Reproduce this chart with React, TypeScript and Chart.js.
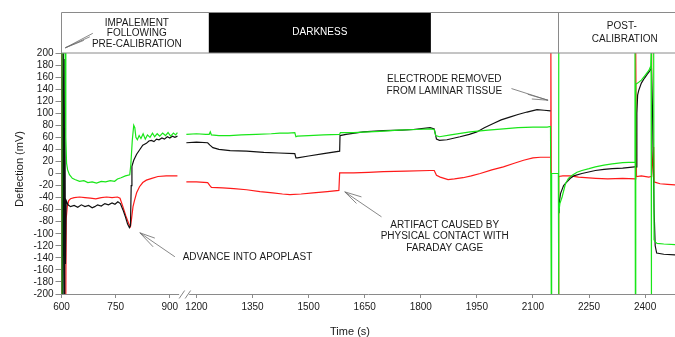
import React, { useEffect, useRef } from "react";
import { Chart, registerables } from "chart.js";

Chart.register(...registerables);

type Pt = [number, number] | null;

// ---------- DATA (time in s, deflection in mV) ----------
const xTickTimes = [600, 750, 900, 1200, 1350, 1500, 1650, 1800, 1950, 2100, 2250, 2400];
const yMin = -200;
const yMax = 200;
const yStep = 20;

const greenTrace: Pt[] = [
  [600, -200], [601, 200], [610, 200], [612, 60], [614, 17], [617, 6], [622, -2], [630, -8], [637, -10],
  [650, -13], [662, -12], [673, -15], [685, -14], [697, -16], [710, -13], [722, -14], [735, -12], [747, -13],
  [755, -9], [765, -7], [777, -4], [789, -2], [792, 15], [796, 55], [800, 80], [803, 76], [806, 60], [810, 56],
  [815, 63], [820, 58], [826, 66], [832, 57], [838, 64], [845, 60], [852, 67], [858, 61], [865, 66], [872, 62],
  [880, 67], [888, 63], [895, 68], [902, 62], [910, 67], [916, 64], [921, 68],
  null,
  [1173, 65], [1200, 66], [1225, 65], [1234, 65], [1237, 69], [1240, 64], [1260, 63], [1289, 63], [1320, 64],
  [1360, 65], [1400, 66], [1423, 67], [1445, 67], [1463, 68], [1466, 61], [1470, 62], [1500, 63], [1540, 64],
  [1583, 65], [1585, 68], [1620, 68], [1660, 69], [1691, 70], [1740, 72], [1790, 73], [1825, 74], [1836, 73],
  [1840, 63], [1850, 61], [1880, 64], [1932, 69], [1980, 72], [2021, 74], [2060, 76], [2100, 77], [2138, 77],
  [2147, 78], [2149, -200], [2150, 0], [2168, 0], [2168.5, 200], [2169, -200], [2169.5, -66], [2172, -50],
  [2178, -39], [2187, -17], [2195, -8], [2205, -3], [2218, 2], [2231, 5], [2250, 8], [2267, 11], [2290, 14],
  [2312, 16], [2340, 18], [2372, 19], [2373, 200], [2374, -200], [2375, 148], [2380, 150], [2390, 155],
  [2400, 163], [2410, 171], [2415, 178], [2416, 200], [2417, -200],
  null,
  [2423, 200], [2424, -110], [2428, -114], [2432, -116], [2450, -117], [2481, -118],
];

const blackTrace: Pt[] = [
  [600, -200], [601, 200], [603, -200], [605, 200], [607, -200], [609, 190], [611, -150], [613, -45],
  [618, -52], [625, -55], [635, -53], [645, -56], [655, -52], [665, -55], [675, -53], [685, -57], [692, -55],
  [700, -52], [710, -54], [720, -50], [730, -52], [740, -49], [748, -51], [756, -47], [763, -50], [770, -60],
  [777, -72], [783, -84], [788, -90], [791, -86], [793, -20], [795, 12], [800, 22], [808, 32], [816, 39],
  [825, 47], [835, 50], [842, 54], [849, 55], [856, 53], [863, 57], [870, 56], [878, 59], [885, 57], [893, 61],
  [900, 59], [907, 62], [914, 60], [921, 62],
  null,
  [1173, 51], [1200, 52], [1230, 51], [1236, 47], [1244, 43], [1260, 40], [1290, 38], [1334, 37], [1380, 35],
  [1420, 34], [1463, 33], [1466, 26], [1470, 26], [1500, 29], [1540, 33], [1583, 37], [1584, 63], [1600, 65],
  [1646, 69], [1700, 71], [1750, 72], [1780, 73], [1825, 76], [1836, 74], [1842, 57], [1850, 55], [1870, 56],
  [1905, 61], [1930, 65], [1950, 69], [1970, 76], [1994, 83], [2015, 89], [2040, 94], [2060, 98], [2084, 102],
  [2111, 106], [2130, 105], [2147, 104],
  null,
  [2169.5, -66], [2171, -45], [2174, -33], [2182, -20], [2191, -14], [2200, -8], [2209, -4], [2231, 0],
  [2267, 5], [2290, 7], [2312, 8], [2340, 9], [2372, 11], [2376, 11], [2378, 100], [2380, 130], [2383, 138],
  [2390, 150], [2398, 158], [2405, 164], [2412, 170], [2417, 175], [2420, 100], [2424, -60], [2427, -120],
  [2431, -132], [2450, -134], [2481, -135],
];

const redTrace: Pt[] = [
  [600, 200], [600.5, -200],
  null,
  [612, -200], [613, -75], [616, -55], [620, -45], [625, -42], [635, -40], [650, -39], [665, -40], [680, -41],
  [695, -42], [710, -40], [725, -39], [740, -40], [755, -39], [762, -41], [770, -55], [778, -70], [786, -83],
  [791, -88], [794, -75], [798, -55], [802, -45], [808, -32], [816, -22], [825, -15], [835, -11], [850, -8],
  [867, -5], [890, -4], [921, -4],
  null,
  [1173, -14], [1200, -14], [1230, -15], [1236, -20], [1240, -23], [1270, -24], [1300, -25], [1334, -27],
  [1370, -30], [1404, -32], [1430, -34], [1450, -35], [1480, -34], [1512, -32], [1550, -30], [1581, -28],
  [1583, 1], [1620, 1], [1660, 2], [1700, 3], [1760, 4], [1825, 5], [1836, 5], [1842, -3], [1852, -6],
  [1873, -10], [1890, -9], [1913, -7], [1935, -4], [1959, 0], [1990, 6], [2021, 11], [2050, 17], [2075, 22],
  [2100, 26], [2120, 27], [2147, 27], [2148, 200], [2149, 0],
  null,
  [2168.5, -200], [2169, -5], [2180, -4], [2200, -4], [2222, -6], [2268, -8], [2300, -9], [2340, -8],
  [2374, -9], [2375, 200], [2377, -5], [2390, -4], [2410, -6], [2416, -5], [2417, 200], [2418, -5],
  [2423, 44], [2424, -14], [2440, -17], [2460, -18], [2481, -19],
];

// periods shown in the header band (s)
const darknessStart = 1233;
const darknessEnd = 1827;
const postStart = 2167;

// ---------- broken time axis ----------
const axisMin = 600;
const axisMax = 2241;
function toAxis(t: number): number {
  return t < 1050 ? 600 + (t - 600) * 0.966 : t - 239;
}

function toXY(trace: Pt[]) {
  const out: { x: number; y: number | null }[] = [];
  let lastX = axisMin;
  for (const p of trace) {
    if (p === null) {
      out.push({ x: lastX + 0.01, y: null });
    } else {
      lastX = toAxis(p[0]);
      out.push({ x: lastX, y: p[1] });
    }
  }
  return out;
}

const FONT = "'Liberation Sans', Arial, Helvetica, sans-serif";

// annotation arrows: tip and tails in (time s, mV)
const arrowNotes: { tip: [number, number]; tails: [number, number][] }[] = [
  { tip: [610.5, 208.6], tails: [[686.7, 232.7], [678.4, 226.9], [661.8, 221]] },
  { tip: [816.9, -98.4], tails: [[858.4, -107.2], [853.7, -121.7], [913.9, -138.2]] },
  { tip: [1596.7, -30.5], tails: [[1641.4, -38.8], [1628, -49.7], [1694.9, -71.9]] },
  { tip: [2140.5, 121.6], tails: [[2042.6, 141], [2086.2, 131.5], [2097, 123.7]] },
];

const textNotes: { lines: string[]; t: number; v: number; align: CanvasTextAlign }[] = [
  { lines: ["ADVANCE INTO APOPLAST"], t: 1163, v: -139, align: "left" },
  { lines: ["ARTIFACT CAUSED BY", "PHYSICAL CONTACT WITH", "FARADAY CAGE"], t: 1864, v: -85.7, align: "center" },
  { lines: ["ELECTRODE REMOVED", "FROM LAMINAR TISSUE"], t: 1863, v: 156.4, align: "center" },
];

const decorPlugin = {
  id: "decor",
  afterDraw(chart: any) {
    const { ctx, chartArea, scales } = chart;
    const xs = scales.x;
    const ys = scales.y;
    const X = (t: number) => xs.getPixelForValue(toAxis(t));
    const Y = (v: number) => ys.getPixelForValue(v);
    const top = chartArea.top;
    const W = chart.width;
    ctx.save();

    // header band
    const hTop = 12.5;
    ctx.fillStyle = "#000";
    ctx.fillRect(X(darknessStart), hTop, X(darknessEnd) - X(darknessStart), top - hTop);
    ctx.strokeStyle = "#8a8a8a";
    ctx.lineWidth = 1;
    ctx.beginPath();
    ctx.moveTo(chartArea.left, top);
    ctx.lineTo(chartArea.left, hTop);
    ctx.lineTo(W + 2, hTop);
    ctx.moveTo(chartArea.left, top);
    ctx.lineTo(W + 2, top);
    const dx = Math.round(X(postStart)) + 0.5;
    ctx.moveTo(dx, hTop);
    ctx.lineTo(dx, top);
    ctx.stroke();

    ctx.font = `10px ${FONT}`;
    ctx.textBaseline = "middle";
    ctx.textAlign = "center";
    ctx.fillStyle = "#1a1a1a";
    const impX = X(808.6);
    ctx.fillText("IMPALEMENT", impX, top - 29.7);
    ctx.fillText("FOLLOWING", impX, top - 19.3);
    ctx.fillText("PRE-CALIBRATION", impX, top - 9);
    ctx.fillStyle = "#fff";
    ctx.fillText("DARKNESS", (X(darknessStart) + X(darknessEnd)) / 2, top - 21);
    ctx.fillStyle = "#1a1a1a";
    const postX = X(2345.7);
    ctx.fillText("POST-", postX - 3, top - 26.3);
    ctx.fillText("CALIBRATION", postX, top - 13.7);

    // annotation texts
    for (const n of textNotes) {
      ctx.textAlign = n.align;
      n.lines.forEach((s, i) => ctx.fillText(s, X(n.t), Y(n.v) + i * 11.6));
    }

    // arrows
    ctx.strokeStyle = "#6a6a6a";
    ctx.lineWidth = 0.8;
    for (const a of arrowNotes) {
      const tx = X(a.tip[0]);
      const ty = Y(a.tip[1]);
      for (const tl of a.tails) {
        ctx.beginPath();
        ctx.moveTo(tx, ty);
        ctx.lineTo(X(tl[0]), Y(tl[1]));
        ctx.stroke();
      }
    }

    // axis break marks
    const bx = (X(900) + X(1200)) / 2 + 1;
    const by = chartArea.bottom;
    ctx.fillStyle = "#fff";
    ctx.fillRect(bx - 5, by - 1.5, 10, 3.5);
    ctx.strokeStyle = "#777";
    ctx.lineWidth = 0.9;
    ctx.beginPath();
    ctx.moveTo(bx - 5, by + 4.5);
    ctx.lineTo(bx + 0.5, by - 3.5);
    ctx.moveTo(bx + 1, by + 4.5);
    ctx.lineTo(bx + 6.5, by - 3.5);
    ctx.stroke();

    // axis titles
    ctx.fillStyle = "#1a1a1a";
    ctx.font = `11px ${FONT}`;
    ctx.textAlign = "center";
    ctx.fillText("Time (s)", 350, 331.5);
    ctx.translate(20, 169);
    ctx.rotate(-Math.PI / 2);
    ctx.fillText("Deflection (mV)", 0, 0);
    ctx.restore();
  },
};

export default function App() {
  const ref = useRef<HTMLCanvasElement>(null);
  useEffect(() => {
    const tickAxisValues = xTickTimes.map(toAxis);
    const mk = (label: string, data: Pt[], color: string) => ({
      label,
      data: toXY(data),
      borderColor: color,
      backgroundColor: color,
      borderWidth: 1.2,
      pointRadius: 0,
      tension: 0,
      spanGaps: false,
      fill: false,
    });
    const chart = new Chart(ref.current as HTMLCanvasElement, {
      type: "line",
      data: {
        datasets: [
          mk("Green", greenTrace, "#19e619"),
          mk("Black", blackTrace, "#111111"),
          mk("Red", redTrace, "#ff1a1a"),
        ] as any,
      },
      options: {
        animation: false,
        responsive: false,
        devicePixelRatio: 1,
        parsing: true,
        normalized: true,
        layout: { padding: { top: 53, right: 0, bottom: 0, left: 0 } },
        plugins: { legend: { display: false }, tooltip: { enabled: false } },
        scales: {
          x: {
            type: "linear",
            min: axisMin,
            max: axisMax,
            afterBuildTicks: (axis: any) => {
              axis.ticks = tickAxisValues.map((v) => ({ value: v }));
            },
            afterFit: (scale: any) => {
              scale.height = 43;
            },
            ticks: {
              autoSkip: false,
              maxRotation: 0,
              padding: 3,
              color: "#1a1a1a",
              font: { family: FONT, size: 10 },
              callback: (_v: any, i: number) => String(xTickTimes[i]),
            },
            grid: { drawOnChartArea: false, drawTicks: true, tickLength: 4, color: "#8a8a8a" },
            border: { color: "#8a8a8a", width: 1 },
          },
          y: {
            min: yMin,
            max: yMax,
            afterFit: (scale: any) => {
              scale.width = 61.5;
            },
            ticks: {
              stepSize: yStep,
              autoSkip: false,
              padding: 2,
              color: "#1a1a1a",
              font: { family: FONT, size: 10 },
            },
            grid: { drawOnChartArea: false, drawTicks: true, tickLength: 6, color: "#8a8a8a" },
            border: { color: "#8a8a8a", width: 1 },
          },
        },
      },
      plugins: [decorPlugin],
    } as any);
    return () => chart.destroy();
  }, []);
  return (
    <div style={{ position: "fixed", left: 0, top: 0, width: 675, height: 337, background: "#fff" }}>
      <canvas ref={ref} width={675} height={337} style={{ display: "block", width: 675, height: 337 }} />
    </div>
  );
}
